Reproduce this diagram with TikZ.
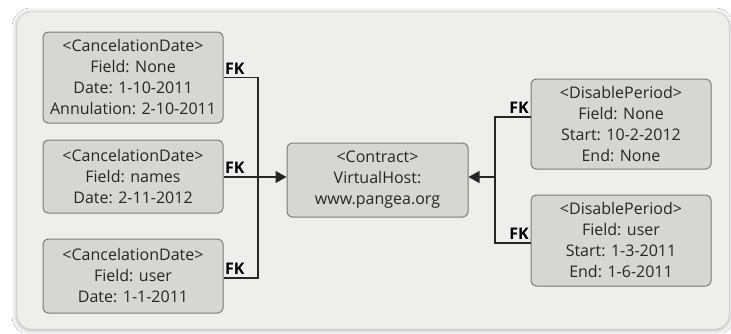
\documentclass[tikz,border=0pt]{standalone}
\usepackage{fontspec}
\setmainfont{Open Sans}
\usetikzlibrary{calc,shadows.blur,arrows.meta}
\definecolor{bgfill}{HTML}{EEEEEC}
\definecolor{bgline}{HTML}{C8C8C6}
\definecolor{boxfill}{HTML}{D6D7D2}
\definecolor{boxline}{HTML}{7A7A78}
\definecolor{txt}{HTML}{262626}
\tikzset{
  entity/.style={draw=boxline, line width=1pt, fill=boxfill, rounded corners=5pt,
    minimum width=180pt, align=center, text=txt, inner sep=0pt,
    font=\fontsize{16}{21}\selectfont},
  fk/.style={font=\fontsize{16}{18}\selectfont\bfseries, text=black, inner xsep=1.5pt, inner ysep=3pt},
  conn/.style={line width=1.3pt, draw=black!85},
  arr/.style={conn, -{Triangle[length=11pt,width=12pt]}}
}
\begin{document}
\begin{tikzpicture}[x=1pt,y=-1pt]
\useasboundingbox (0,0) rectangle (731,333);
\fill[white] (0,0) rectangle (731,333);
\draw[draw=bgline, fill=bgfill, rounded corners=14pt,
  blur shadow={shadow xshift=0pt, shadow yshift=-1pt, shadow blur radius=5pt, shadow opacity=35}]
  (17,12) rectangle (729,329);

\node[entity, minimum height=91pt] (b1) at (133,77.5)
  {<CancelationDate>\\Field: None\\Date: 1-10-2011\\Annulation: 2-10-2011};
\node[entity, minimum height=73pt] (b2) at (133,176.5)
  {<CancelationDate>\\Field: names\\Date: 2-11-2012};
\node[entity, minimum height=74pt] (b3) at (133,276)
  {<CancelationDate>\\Field: user\\Date: 1-1-2011};
\node[entity, minimum width=181pt, minimum height=74pt] (c) at (377.5,180)
  {<Contract>\\VirtualHost:\\www.pangea.org};
\node[entity, minimum height=90pt] (d1) at (621,124)
  {<DisablePeriod>\\Field: None\\Start: 10-2-2012\\End: None};
\node[entity, minimum height=91pt] (d2) at (621,240.5)
  {<DisablePeriod>\\Field: user\\Start: 1-3-2011\\End: 1-6-2011};

\coordinate (lbus) at (258,177);
\coordinate (rbus) at (495,177);
\coordinate (b3p) at ($(b3.east)+(0,2)$);
\coordinate (d1p) at ($(d1.west)+(0,-7)$);
\coordinate (d2p) at ($(d2.west)+(0,2.5)$);
\coordinate (b2p) at ($(b2.east)+(0,0.5)$);
\coordinate (cl) at (c.west |- b2p);
\coordinate (cr) at (c.east |- b2p);

\draw[conn] (b1.east) -| (lbus) |- (b3p);
\draw[arr] (b2p) -- (cl);
\draw[conn] (d1p) -| (rbus) |- (d2p);
\draw[arr] (rbus) -- (cr);

\node[fk, anchor=south west] (fk1) at (b1.east) {FK};
\node[fk, anchor=south west] (fk2) at (b2p) {FK};
\node[fk, anchor=south west] (fk3) at (b3p) {FK};
\node[fk, anchor=south east] (fk4) at (d1p) {FK};
\node[fk, anchor=south east] (fk5) at (d2p) {FK};
\end{tikzpicture}
\end{document}
